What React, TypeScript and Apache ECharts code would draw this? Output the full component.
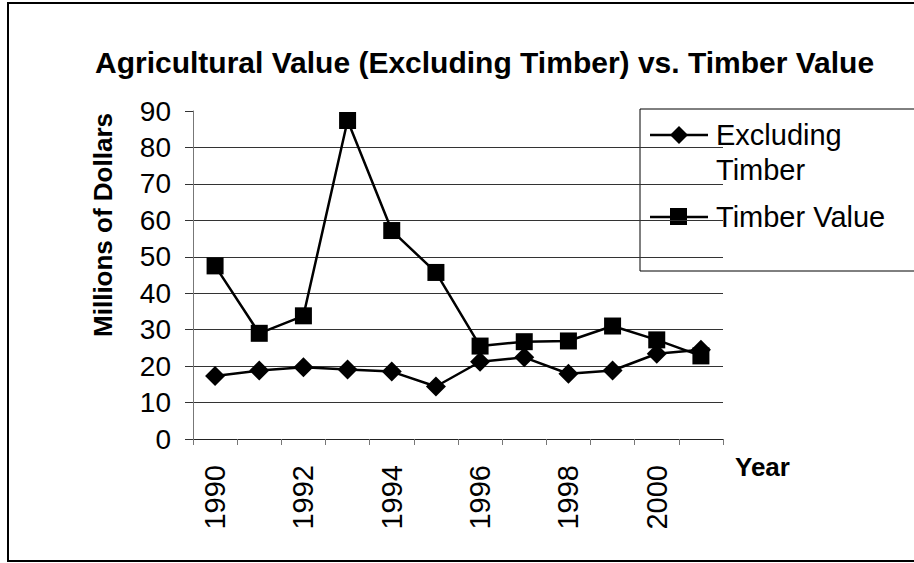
import React, { useEffect, useRef } from "react";
import * as echarts from "echarts";

const years = ["1990", "1991", "1992", "1993", "1994", "1995", "1996", "1997", "1998", "1999", "2000", "2001"];
const excludingTimber = [17.3, 18.8, 19.7, 19.1, 18.5, 14.4, 21.2, 22.4, 17.9, 18.8, 23.4, 24.5];
const timberValue = [47.5, 29.0, 33.8, 87.4, 57.2, 45.7, 25.5, 26.7, 26.9, 31.0, 27.2, 22.8];
const titleText = "Agricultural Value (Excluding Timber) vs. Timber Value";
const yAxisTitle = "Millions of Dollars";
const xAxisTitle = "Year";
const legendNames = ["Excluding\nTimber", "Timber Value"];

const FONT = "'Liberation Sans', Arial, sans-serif";

export default function App() {
  const ref = useRef<HTMLDivElement>(null);
  useEffect(() => {
    document.body.style.margin = "0";
    if (!ref.current) return;
    const chart = echarts.init(ref.current, undefined, { renderer: "svg" });
    const gridColors = years.slice(0, 9).map(() => "#333").concat(["rgba(0,0,0,0)"]);
    chart.setOption({
      animation: false,
      backgroundColor: "#fff",
      textStyle: { fontFamily: FONT },
      grid: { left: 193, top: 111, width: 530, height: 328 },
      xAxis: {
        type: "category",
        data: years,
        boundaryGap: true,
        axisLine: { lineStyle: { color: "#222", width: 1 } },
        axisTick: { show: true, length: 6, interval: 0, lineStyle: { color: "#777" } },
        axisLabel: { interval: 1, rotate: 90, fontSize: 29, color: "#000", margin: 26, fontFamily: FONT },
        splitLine: { show: false },
      },
      yAxis: {
        type: "value",
        min: 0,
        max: 90,
        interval: 10,
        axisLine: { show: true, lineStyle: { color: "#777", width: 1 } },
        axisTick: { show: true, inside: false, length: 8, lineStyle: { color: "#333" } },
        axisLabel: { fontSize: 28, color: "#000", margin: 22, fontFamily: FONT },
        splitLine: { show: true, lineStyle: { color: gridColors, width: 1 } },
      },
      series: [
        {
          name: "Timber Value",
          type: "line",
          data: timberValue,
          symbol: "rect",
          symbolSize: 17,
          lineStyle: { color: "#000", width: 2.5 },
          itemStyle: { color: "#000" },
        },
        {
          name: "Excluding Timber",
          type: "line",
          data: excludingTimber,
          symbol: "diamond",
          symbolSize: 20,
          lineStyle: { color: "#000", width: 2.5 },
          itemStyle: { color: "#000" },
        },
      ],
      graphic: [
        { type: "rect", shape: { x: 8, y: 3, width: 930, height: 558 }, style: { fill: "none", stroke: "#000", lineWidth: 2 }, silent: true },
        { type: "text", x: 95, y: 62, style: { text: titleText, font: `bold 30px ${FONT}`, fill: "#000", verticalAlign: "middle", align: "left" } },
        { type: "text", x: 103, y: 225, rotation: Math.PI / 2, style: { text: yAxisTitle, font: `bold 26px ${FONT}`, fill: "#000", align: "center", verticalAlign: "middle" } },
        { type: "text", x: 735, y: 467, style: { text: xAxisTitle, font: `bold 26px ${FONT}`, fill: "#000", align: "left", verticalAlign: "middle" } },
        { type: "rect", shape: { x: 640, y: 109, width: 300, height: 162 }, style: { fill: "#fff", stroke: "#000", lineWidth: 1 }, silent: true },
        { type: "line", shape: { x1: 650, y1: 135, x2: 708, y2: 135 }, style: { stroke: "#000", lineWidth: 2.5 } },
        { type: "polygon", shape: { points: [[679, 126], [688, 135], [679, 144], [670, 135]] }, style: { fill: "#000" } },
        { type: "text", x: 716, y: 135, style: { text: "Excluding", font: `29px ${FONT}`, fill: "#000", verticalAlign: "middle" } },
        { type: "text", x: 716, y: 170, style: { text: "Timber", font: `29px ${FONT}`, fill: "#000", verticalAlign: "middle" } },
        { type: "line", shape: { x1: 650, y1: 217, x2: 708, y2: 217 }, style: { stroke: "#000", lineWidth: 2.5 } },
        { type: "rect", shape: { x: 670, y: 208, width: 17, height: 17 }, style: { fill: "#000" } },
        { type: "text", x: 716, y: 217, style: { text: legendNames[1], font: `29px ${FONT}`, fill: "#000", verticalAlign: "middle" } },
      ],
    });
    return () => chart.dispose();
  }, []);
  return <div ref={ref} style={{ width: 914, height: 563 }} />;
}
